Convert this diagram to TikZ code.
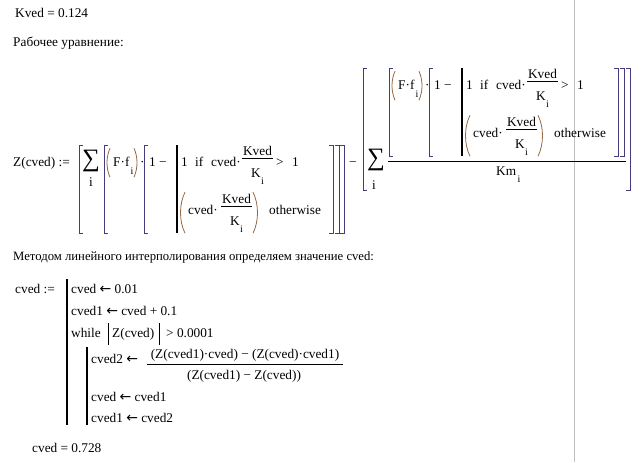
\documentclass[tikz,border=0pt]{standalone}
\usepackage{fontspec}
\setmainfont{Liberation Serif}
\newfontfamily\arrfont{DejaVu Sans}
\newcommand{\mcfont}{\fontsize{13.3}{16}\selectfont}
\newcommand{\mcsub}{\fontsize{10}{12}\selectfont}
\newcommand{\mcsig}{\fontsize{25}{28}\selectfont}
\newcommand{\la}{{\arrfont\fontsize{14}{16}\selectfont ←}}
\definecolor{brkc}{RGB}{70,60,125}
\definecolor{parc}{RGB}{150,105,65}
\tikzset{
  pwise/.pic = {
    % brackets of the product
    \draw[brk] (4,-21) -- (0,-21) -- (0,67) -- (4,67);
    \draw[brk] (44,-21) -- (40,-21) -- (40,67) -- (44,67);
    \draw[brk] (225,-21) -- (229,-21) -- (229,67) -- (225,67);
    \draw[brk] (231,-21) -- (235,-21) -- (235,67) -- (231,67);
    \draw[par] (6,-18) .. controls (2,-9) and (2,2) .. (6,11);
    \draw[par] (30,-18) .. controls (34,-9) and (34,2) .. (30,11);
    \node (-F) at (9,0) {F·f};
    \node[sub] (-Fi) at (28,5) {i};
    \node (-dot) at (36,0) {·};
    \node (-one) at (45,0) {1 −};
    \draw[bar] (73,-21) -- (73,67);
    % first case
    \node (-a) at (77,0) {1};
    \node (-if) at (91,0) {if};
    \node (-cv) at (107,0) {cved·};
    \draw (138,-8) -- (169,-8);
    \node[mid] (-kv) at (153.5,-11) {Kved};
    \node (-k) at (147,11) {K};
    \node[sub] (-ki) at (158.5,15) {i};
    \node (-gt) at (172,0) {>};
    \node (-b) at (188,0) {1};
    % otherwise
    \draw[par] (81,26) .. controls (75,38) and (75,55) .. (81,67);
    \node (-cv2) at (84,48) {cved·};
    \draw (117,40) -- (148,40);
    \node[mid] (-kv2) at (132.5,37) {Kved};
    \node (-k2) at (126,59) {K};
    \node[sub] (-ki2) at (137.5,63) {i};
    \draw[par] (149,26) .. controls (155,38) and (155,55) .. (149,67);
    \node (-oth) at (165,48) {otherwise};
  }
}
\begin{document}
\begin{tikzpicture}[
  x = 1pt, y = -1pt,
  every node/.style = {inner sep = 0, anchor = base west, font = \mcfont},
  mid/.style = {anchor = base},
  sub/.style = {anchor = center, font = \mcsub},
  sig/.style = {anchor = center, font = \mcsig},
  brk/.style = {draw = brkc, line width = 0.8pt},
  par/.style = {draw = parc, line width = 0.8pt},
  bar/.style = {line width = 2.5pt},
  ]
  \path[fill = white] (0,0) rectangle (643,462);
  \draw[black!25] (574.5,0) -- (574.5,462);

  \node (kved) at (15,17) {Kved = 0.124};
  \node (eqn) at (13,46) {Рабочее уравнение:};

  % Z(cved)
  \node (Z) at (13,166) {Z(cved) :=};
  \draw[brk] (83,145) -- (79,145) -- (79,233) -- (83,233);
  \node[sig] (S1) at (91,161) {∑};
  \node[anchor = center] (S1i) at (91,182) {i};
  \pic (P1) at (104,166) {pwise};
  \draw[brk] (340,145) -- (344,145) -- (344,233) -- (340,233);
  \node (minus) at (349,166) {−};

  \draw[brk] (367,68) -- (363,68) -- (363,190) -- (367,190);
  \node[sig] (S2) at (376,160) {∑};
  \node[anchor = center] (S2i) at (374,185) {i};
  \pic (P2) at (389,89) {pwise};
  \draw (388,161) -- (626,161);
  \node (Km) at (496,175) {Km};
  \node[sub] (Kmi) at (519,179) {i};
  \draw[brk] (626,68) -- (630,68) -- (630,190) -- (626,190);

  \node[font = \fontsize{12.7}{16}\selectfont] (met) at (13,260) {Методом линейного интерполирования определяем значение cved:};

  % program
  \node (cvd) at (15,293) {cved :=};
  \draw[bar] (67,279) -- (67,425);
  \node (l1) at (71,293) {cved \la{} 0.01};
  \node (l2) at (71,315) {cved1 \la{} cved + 0.1};
  \node (wh) at (71,337) {while};
  \draw (108,323) -- (108,345);
  \node (zc) at (112,337) {Z(cved)};
  \draw (159,323) -- (159,345);
  \node (gt) at (166,337) {> 0.0001};
  \draw[bar] (87,347) -- (87,425);
  \node (l4) at (91,363) {cved2 \la};
  \draw (147,364) -- (343,364);
  \node[mid] (nm) at (245,358) {(Z(cved1)·cved) − (Z(cved)·cved1)};
  \node[mid] (dn) at (244,379) {(Z(cved1) − Z(cved))};
  \node (l5) at (91,401) {cved \la{} cved1};
  \node (l6) at (91,422) {cved1 \la{} cved2};

  \node (res) at (32,452) {cved = 0.728};
\end{tikzpicture}
\end{document}
